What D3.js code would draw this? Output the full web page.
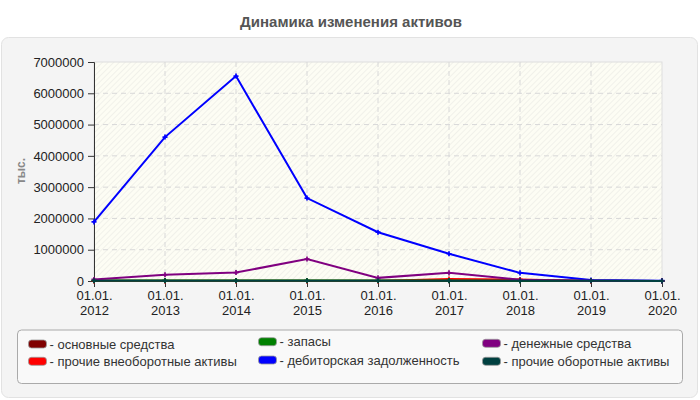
<!DOCTYPE html>
<html><head><meta charset="utf-8">
<script src="https://cdn.jsdelivr.net/npm/d3@7"></script>
<style>
html,body{margin:0;padding:0;background:#fff;}
svg{display:block;font-family:"Liberation Sans",Arial,sans-serif;}
</style></head>
<body>
<svg id="chart" width="700" height="400"></svg>
<script>
const title = "Динамика изменения активов";
const yLabel = "тыс.";
const years = ["2012","2013","2014","2015","2016","2017","2018","2019","2020"];
const tickPrefix = "01.01.";
const yTicks = [0,1000000,2000000,3000000,4000000,5000000,6000000,7000000];

const seriesNames = ["основные средства","прочие внеоборотные активы","запасы","дебиторская задолженность","денежные средства","прочие оборотные активы"];
const seriesColors = ["#800000","#ff0000","#008000","#0000ff","#800080","#004040"];
const osnovnye   = [5000,5000,5000,5000,5000,5000,5000,0,0];
const prochieVne = [0,0,0,0,0,60000,50000,0,0];
const zapasy     = [15000,15000,15000,15000,15000,15000,10000,5000,0];
const debitor    = [1890000,4600000,6550000,2650000,1560000,870000,260000,30000,10000];
const denezhnye  = [50000,200000,270000,700000,100000,260000,40000,5000,0];
const prochieObor= [10000,10000,10000,10000,10000,10000,5000,5000,0];
const seriesValues = [osnovnye, prochieVne, zapasy, debitor, denezhnye, prochieObor];

const svg = d3.select("#chart");
const defs = svg.append("defs");
const pat = defs.append("pattern").attr("id","hatch").attr("patternUnits","userSpaceOnUse")
  .attr("width",4).attr("height",4).attr("patternTransform","rotate(45)");
pat.append("rect").attr("width",4).attr("height",4).attr("fill","#fdfdf4");
pat.append("line").attr("x1",0).attr("y1",0).attr("x2",0).attr("y2",4).attr("stroke","#e9e9e4").attr("stroke-width",1.2);

// title
svg.append("text").attr("x",351).attr("y",26.5).attr("text-anchor","middle")
  .attr("font-size",15).attr("font-weight","bold").attr("fill","#555").text(title);

// panel
svg.append("rect").attr("x",1.5).attr("y",37.5).attr("width",696).attr("height",360).attr("rx",7)
  .attr("fill","#f4f4f4").attr("stroke","#e2e2e2");

const m = {left:94, right:662, top:62, bottom:281};
const x = d3.scalePoint().domain(years).range([m.left,m.right]);
const y = d3.scaleLinear().domain([0,7000000]).range([m.bottom,m.top]);

svg.append("rect").attr("x",m.left).attr("y",m.top).attr("width",m.right-m.left).attr("height",m.bottom-m.top)
  .attr("fill","url(#hatch)").attr("stroke","#dedede");

// grid
const g = svg.append("g");
g.selectAll(".hg").data(yTicks.slice(1,-1)).join("line")
  .attr("x1",m.left).attr("x2",m.right).attr("y1",d=>y(d)).attr("y2",d=>y(d))
  .attr("stroke","#d8d8d8").attr("stroke-dasharray","5,4");
g.selectAll(".vg").data(years.slice(1,-1)).join("line")
  .attr("y1",m.top).attr("y2",m.bottom).attr("x1",d=>x(d)).attr("x2",d=>x(d))
  .attr("stroke","#d8d8d8").attr("stroke-dasharray","5,4");

// axes
const yAxis = svg.append("g").attr("transform",`translate(${m.left},0)`)
  .call(d3.axisLeft(y).tickValues(yTicks).tickFormat(d3.format("d")).tickSize(6).tickPadding(4));
yAxis.select(".domain").attr("stroke","#333");
yAxis.selectAll("line").attr("stroke","#333");
yAxis.selectAll("text").attr("font-size",13).attr("fill","#222").attr("font-family","Liberation Sans, Arial, sans-serif");

const xAxis = svg.append("g").attr("transform",`translate(0,${m.bottom})`)
  .call(d3.axisBottom(x).tickSize(6).tickFormat(""));
xAxis.select(".domain").attr("stroke","#333");
xAxis.selectAll("line").attr("stroke","#333");
xAxis.selectAll(".tick").each(function(d){
  const t = d3.select(this).append("text").attr("fill","#222").attr("font-size",13)
    .attr("text-anchor","middle").attr("font-family","Liberation Sans, Arial, sans-serif");
  t.append("tspan").attr("x",0).attr("y",19).text(tickPrefix);
  t.append("tspan").attr("x",0).attr("y",34).text(d);
});

svg.append("text").attr("transform","translate(25,171) rotate(-90)").attr("text-anchor","middle")
  .attr("font-size",12).attr("font-weight","bold").attr("fill","#888").text(yLabel);

// lines
const line = d3.line().x((d,i)=>x(years[i])).y(d=>y(d));
seriesValues.forEach((vals,si)=>{
  const c = seriesColors[si];
  svg.append("path").datum(vals).attr("d",line).attr("fill","none").attr("stroke",c).attr("stroke-width",2);
  svg.append("g").selectAll("path").data(vals).join("path")
    .attr("transform",(d,i)=>`translate(${x(years[i])},${y(d)})`)
    .attr("d",d3.symbol().type(d3.symbolCross).size(14))
    .attr("fill",c);
});

// legend
svg.append("rect").attr("x",17.5).attr("y",330).attr("width",665).attr("height",53.5).attr("rx",4)
  .attr("fill","#f9f9f9").attr("stroke","#aaa");
const legCols = [28.5,258.5,482.5];
const legRowTop = [[340,357.3],[337.7,356],[339.3,357.3]];
seriesNames.forEach((n,i)=>{
  const col = Math.floor(i/2), row = i%2;
  const lx = legCols[col], ly = legRowTop[col][row];
  svg.append("rect").attr("x",lx).attr("y",ly).attr("width",18).attr("height",8).attr("rx",3)
    .attr("fill",seriesColors[i]).attr("stroke","#999").attr("stroke-width",0.8);
  svg.append("text").attr("x",lx+21).attr("y",ly+8.5).attr("font-size",13).attr("fill","#333")
    .text("- "+n);
});
</script>
</body></html>
